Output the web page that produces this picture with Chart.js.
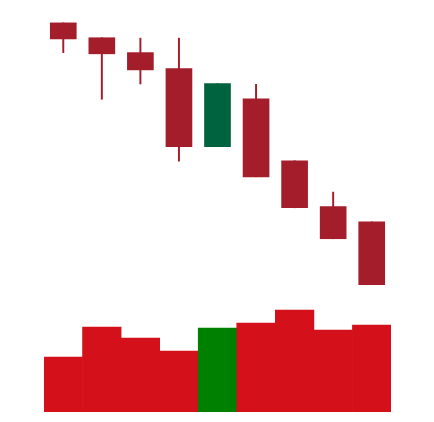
<!DOCTYPE html>
<html>
<head>
<meta charset="utf-8">
<script src="https://cdn.jsdelivr.net/npm/chart.js@4/dist/chart.umd.min.js"></script>
<style>
  html, body { margin: 0; padding: 0; background: #fff; }
  #box { width: 434px; height: 422px; }
</style>
</head>
<body>
<div id="box"><canvas id="candles"></canvas></div>
<script>
// values
var days   = ["D1", "D2", "D3", "D4", "D5", "D6", "D7", "D8", "D9"];
var opens  = [96.8, 93.1, 89.4, 85.4, 66.0, 77.9, 62.5, 51.1, 47.3];
var highs  = [96.8, 93.1, 93.0, 93.0, 81.7, 81.5, 62.5, 54.7, 47.3];
var lows   = [89.4, 77.8, 81.6, 62.4, 66.0, 58.5, 50.8, 43.1, 31.7];
var closes = [92.8, 89.1, 85.1, 66.0, 81.7, 58.5, 50.8, 43.1, 31.7];
var volumes = [550, 850, 740, 610, 840, 890, 1020, 820, 870];

var upCandle = "#00633f", downCandle = "#a31d2b";
var upVol = "#008000", downVol = "#d4101a";

var isUp = opens.map(function(o, i) { return closes[i] >= o; });

var bodies = opens.map(function(o, i) { return [o, closes[i]]; });
var wicks = lows.map(function(l, i) { return [l, highs[i]]; });

var candleColors = isUp.map(function(u) { return u ? upCandle : downCandle; });
var volColors = isUp.map(function(u) { return u ? upVol : downVol; });

var ctx = document.getElementById("candles").getContext("2d");
var chart = new Chart(ctx, {
    type: 'bar',
    data: {
        labels: days,
        datasets: [
            {
                label: "body",
                data: bodies,
                backgroundColor: candleColors,
                barThickness: 26,
                grouped: false,
                yAxisID: 'y',
                order: 1
            },
            {
                label: "wick",
                data: wicks,
                backgroundColor: candleColors,
                barThickness: 1.3,
                grouped: false,
                yAxisID: 'y',
                order: 2
            },
            {
                label: "volume",
                data: volumes,
                backgroundColor: volColors,
                barPercentage: 1,
                categoryPercentage: 1,
                grouped: false,
                yAxisID: 'yv',
                order: 3
            }
        ]
    },
    options: {
        responsive: true,
        maintainAspectRatio: false,
        animation: false,
        layout: { padding: { left: 44, right: 43, top: 10, bottom: 10 } },
        plugins: {
            legend: { display: false },
            tooltip: { enabled: false }
        },
        scales: {
            x: { display: false, offset: true, grid: { display: false } },
            y: { display: false, min: 0, max: 100 },
            // volume only uses the lower strip of the plot
            yv: { display: false, min: 0, max: 4020 }
        }
    }
});
</script>
</body>
</html>
